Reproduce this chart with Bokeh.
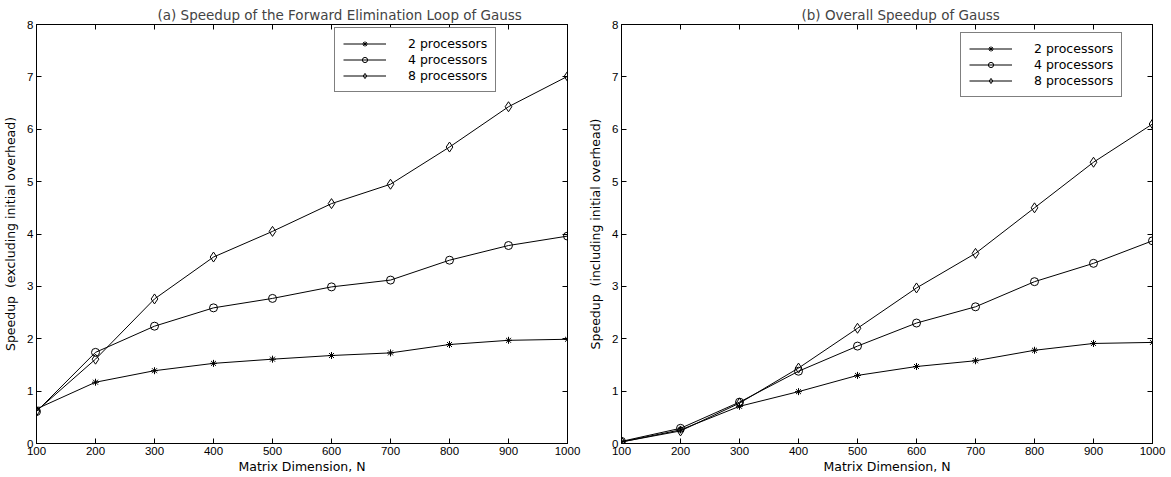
from bokeh.plotting import figure
from bokeh.layouts import row
from bokeh.models import Range1d, LinearAxis, FixedTicker, Legend, LegendItem
from bokeh.embed import file_html
from bokeh.resources import INLINE

# Matrix dimension N
sizes = [100, 200, 300, 400, 500, 600, 700, 800, 900, 1000]

# (a) Forward elimination loop speedup (excluding initial overhead)
fwd_2p = [0.66, 1.17, 1.39, 1.53, 1.61, 1.68, 1.73, 1.89, 1.97, 1.99]
fwd_4p = [0.61, 1.74, 2.24, 2.59, 2.77, 2.99, 3.12, 3.50, 3.78, 3.96]
fwd_8p = [0.62, 1.61, 2.76, 3.56, 4.05, 4.58, 4.95, 5.66, 6.43, 7.01]

# (b) Overall speedup (including initial overhead)
all_2p = [0.03, 0.26, 0.71, 0.99, 1.30, 1.47, 1.58, 1.78, 1.91, 1.93]
all_4p = [0.04, 0.29, 0.79, 1.38, 1.86, 2.30, 2.61, 3.09, 3.44, 3.87]
all_8p = [0.03, 0.24, 0.77, 1.44, 2.20, 2.97, 3.63, 4.50, 5.37, 6.10]

x_ticks = [100, 200, 300, 400, 500, 600, 700, 800, 900, 1000]
y_ticks = [0, 1, 2, 3, 4, 5, 6, 7, 8]

series_labels = ["2 processors", "4 processors", "8 processors"]
markers = ["asterisk", "circle", "diamond"]
marker_sizes = [7, 8, 10]

TEXT_FONT = "DejaVu Sans"
TICK_FONT = "Liberation Sans"


def make_panel(title, title_offset, ylabel, values, width, border_right, legend_loc):
    p = figure(width=width, height=477, output_backend="svg", toolbar_location=None,
               x_range=Range1d(100, 1000), y_range=Range1d(0, 8),
               min_border_left=35, min_border_right=border_right,
               min_border_top=24, min_border_bottom=34)
    p.background_fill_color = "white"
    p.border_fill_color = "white"
    p.outline_line_color = "black"
    p.outline_line_width = 1
    p.xgrid.visible = False
    p.ygrid.visible = False

    p.title.text = title
    p.title.text_font = TEXT_FONT
    p.title.text_font_size = "13.5px"
    p.title.text_font_style = "normal"
    p.title.align = "left"
    p.title.offset = title_offset
    p.title.standoff = 3

    p.xaxis.ticker = FixedTicker(ticks=x_ticks)
    p.yaxis.ticker = FixedTicker(ticks=y_ticks)
    for ax in (p.xaxis[0], p.yaxis[0]):
        ax.axis_line_color = "black"
        ax.major_tick_in = 5
        ax.major_tick_out = 0
        ax.minor_tick_line_color = None
        ax.major_label_text_font = TICK_FONT
        ax.major_label_text_font_size = "11.5px"
        ax.major_label_text_color = "black"
        ax.major_label_standoff = 3
        ax.axis_label_text_font = TEXT_FONT
        ax.axis_label_text_font_size = "12.5px"
        ax.axis_label_text_font_style = "normal"
        ax.axis_label_text_color = "black"
    p.xaxis.axis_label = "Matrix Dimension, N"
    p.xaxis.axis_label_standoff = 1
    p.yaxis.axis_label = ylabel
    p.yaxis.axis_label_standoff = 6

    # inward ticks on the top and right edges of the box, no labels there
    top = LinearAxis(ticker=FixedTicker(ticks=x_ticks))
    right = LinearAxis(ticker=FixedTicker(ticks=y_ticks))
    for ax in (top, right):
        ax.major_tick_in = 5
        ax.major_tick_out = 0
        ax.minor_tick_line_color = None
        ax.major_label_text_color = None
        ax.major_label_text_alpha = 0
        ax.major_label_text_font_size = "1px"
        ax.major_label_standoff = 0
        ax.axis_line_color = "black"
    p.add_layout(top, "above")
    p.add_layout(right, "right")

    items = []
    for vals, lab, mk, ms in zip(values, series_labels, markers, marker_sizes):
        ln = p.line(sizes, vals, line_color="black", line_width=1)
        sc = p.scatter(sizes, vals, marker=mk, size=ms, line_color="black",
                       fill_alpha=0, line_width=1)
        items.append(LegendItem(label=lab, renderers=[ln, sc]))

    legend = Legend(items=items, location=legend_loc)
    legend.label_text_font = TEXT_FONT
    legend.label_text_font_size = "12.5px"
    legend.label_text_color = "black"
    legend.glyph_width = 43
    legend.glyph_height = 13
    legend.label_height = 13
    legend.label_standoff = 22
    legend.padding = 8
    legend.spacing = 1
    legend.margin = 0
    legend.border_line_color = "black"
    legend.border_line_width = 1
    legend.background_fill_color = "white"
    legend.background_fill_alpha = 1
    p.add_layout(legend, "center")
    return p


p1 = make_panel("(a) Speedup of the Forward Elimination Loop of Gauss", 121,
                "Speedup \u00a0(excluding initial overhead)",
                [fwd_2p, fwd_4p, fwd_8p], 585, 18, (298, 351))
p2 = make_panel("(b) Overall Speedup of Gauss", 180,
                "Speedup \u00a0(including initial overhead)",
                [all_2p, all_4p, all_8p], 586, 19, (339, 346))

layout = row(p1, p2)
open("out.html", "w").write(file_html(layout, INLINE))
